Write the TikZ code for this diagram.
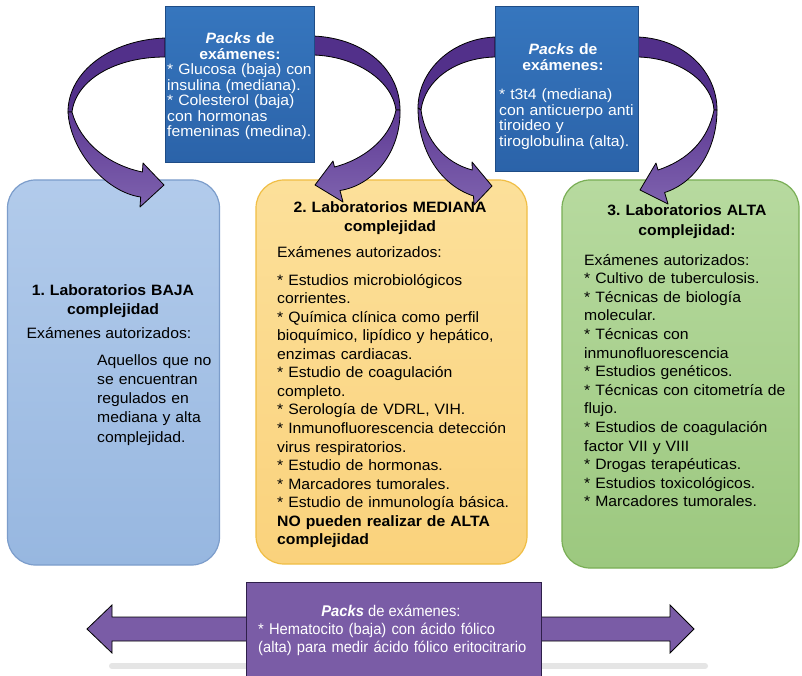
\documentclass[tikz,border=0pt]{standalone}
\usepackage{fontspec}
\setmainfont{Liberation Sans}[FakeStretch=1.05]
\newfontfamily\botfont{Liberation Sans}[FakeStretch=0.95]
\definecolor{labAtop}{HTML}{B2CBEB}
\definecolor{labAbot}{HTML}{97B7E0}
\definecolor{labAdraw}{HTML}{7C9DCB}
\definecolor{labBtop}{HTML}{FCE09A}
\definecolor{labBbot}{HTML}{FAD27C}
\definecolor{labBdraw}{HTML}{F0BE45}
\definecolor{labCtop}{HTML}{B7DA9F}
\definecolor{labCbot}{HTML}{9CC87F}
\definecolor{labCdraw}{HTML}{79AE55}
\definecolor{pktop}{HTML}{3676BE}
\definecolor{pkbot}{HTML}{2B63A9}
\definecolor{pkdraw}{HTML}{1E4C86}
\definecolor{purpbox}{HTML}{7A5CA6}
\definecolor{purpdraw}{HTML}{2E1F4A}
\definecolor{ardark}{HTML}{52308A}
\definecolor{arlighttop}{HTML}{5E3A94}
\definecolor{arlightbot}{HTML}{7E62AE}
\tikzset{
  labbox/.style={rectangle, rounded corners=28, line width=1.2},
  pkbox/.style={rectangle, draw=pkdraw, line width=1, top color=pktop, bottom color=pkbot},
  arrowdark/.style={draw=black, line width=0.8, fill=ardark, line join=round},
  arrowlight/.style={draw=black, line width=0.8, top color=arlighttop, bottom color=arlightbot, line join=round},
  labtxt/.style={inner sep=0, font=\fontsize{15}{18.5}\selectfont, text=black},
  pktxt/.style={inner sep=0, font=\fontsize{15}{15.5}\selectfont, text=white},
  bottxt/.style={inner sep=0, font=\botfont\fontsize{15.5}{18}\selectfont, text=white},
}
\frenchspacing
\begin{document}
\begin{tikzpicture}[x=1pt,y=-1pt]
\useasboundingbox (0,0) rectangle (802,676);
\fill[white] (0,0) rectangle (802,676);

% main laboratory boxes
\node[labbox, draw=labAdraw, top color=labAtop, bottom color=labAbot,
      minimum width=212, minimum height=385] (lab1) at (113.5,372.5) {};
\node[labbox, draw=labBdraw, top color=labBtop, bottom color=labBbot,
      minimum width=271, minimum height=384] (lab2) at (391.5,372) {};
\node[labbox, draw=labCdraw, top color=labCtop, bottom color=labCbot,
      minimum width=237, minimum height=388] (lab3) at (680.5,374) {};

% curved arrow A (pk1 -> lab1)
\draw[arrowdark] (165,38) .. controls (110,40) and (68,72) .. (68,112)
  -- (72,112) .. controls (76,80) and (115,57) .. (165,57) -- cycle;
\draw[arrowlight] (68,112) .. controls (70,150) and (105,192) .. (140.7,197)
  -- (140,207) -- (164,185) -- (143,163) -- (142.4,172)
  .. controls (108,165) and (80,142) .. (72,112) -- cycle;

% curved arrow B (pk1 -> lab2)
\draw[arrowdark] (313,36) .. controls (365,38) and (400,70) .. (400,110)
  -- (396,110) .. controls (392,80) and (355,56) .. (313,55) -- cycle;
\draw[arrowlight] (400,110) .. controls (401,150) and (375,185) .. (340,190.5)
  -- (343,202) -- (315,185) -- (333,161) -- (334.5,167)
  .. controls (362,160) and (390,140) .. (396,110) -- cycle;

% curved arrow C (pk2 -> lab2)
\draw[arrowdark] (495,37) .. controls (450,39) and (418,72) .. (418,108)
  -- (421,110) .. controls (425,80) and (455,58) .. (495,57) -- cycle;
\draw[arrowlight] (418,108) .. controls (418,150) and (440,185) .. (473.5,196)
  -- (474,205) -- (492,186) -- (472,162) -- (472.3,170)
  .. controls (445,163) and (425,140) .. (421,110) -- cycle;

% curved arrow D (pk2 -> lab3)
\draw[arrowdark] (638,37) .. controls (685,39) and (717,72) .. (717,110)
  -- (714,110) .. controls (712,82) and (680,58) .. (638,57) -- cycle;
\draw[arrowlight] (717,110) .. controls (717,150) and (695,183) .. (664.6,192.5)
  -- (668,204) -- (640,190) -- (656,163) -- (658,170)
  .. controls (688,160) and (708,140) .. (714,110) -- cycle;

% packs boxes
\node[pkbox, minimum width=149, minimum height=156] (pk1) at (239.5,85) {};
\node[pkbox, minimum width=143, minimum height=165] (pk2) at (566.5,89.5) {};

% bottom double arrow with shadow
\draw[gray!20, line width=6, line cap=round] (112,666) -- (705,666);
\draw[draw=black, line width=0.8, fill=purpbox, line join=miter]
  (87,629) -- (112,605) -- (112,617) -- (670,617) -- (670,605) -- (694,629)
  -- (670,653) -- (670,641) -- (112,641) -- (112,653) -- cycle;
\node[rectangle, draw=purpdraw, line width=1, fill=purpbox,
      minimum width=295, minimum height=110] (pkb) at (393.5,637) {};

% texts in packs boxes
\node[pktxt, anchor=base, text width=140, align=center] (pk1title) at (240,44)
  {\textbf{\textit{Packs} de}\\\textbf{exámenes:}};
\node[pktxt, anchor=base west, text width=146, align=left] (pk1body) at (167,75)
  {{*} Glucosa (baja) con\\insulina (mediana).\\{*} Colesterol (baja)\\con hormonas\\femeninas (medina).};
\node[pktxt, anchor=base, text width=136, align=center] (pk2title) at (563,55)
  {\textbf{\textit{Packs} de}\\\textbf{exámenes:}};
\node[pktxt, anchor=base west, text width=138, align=left] (pk2body) at (499,100)
  {{*} t3t4 (mediana)\\con anticuerpo anti\\tiroideo y\\tiroglobulina (alta).};

% texts lab 1
\node[labtxt, anchor=base, text width=200, align=center,
      font=\fontsize{15}{19}\selectfont] (lab1title) at (113,295)
  {\textbf{1. Laboratorios BAJA}\\\textbf{complejidad}};
\node[labtxt, anchor=base] (lab1sub) at (109,338) {Exámenes autorizados:};
\node[labtxt, anchor=base west, text width=125, align=left,
      font=\fontsize{15}{19.25}\selectfont] (lab1body) at (97,365)
  {Aquellos que no\\se encuentran\\regulados en\\mediana y alta\\complejidad.};

% texts lab 2
\node[labtxt, anchor=base, text width=260, align=center,
      font=\fontsize{15}{20}\selectfont] (lab2title) at (390,212)
  {\textbf{2. Laboratorios MEDIANA}\\\textbf{complejidad}};
\node[labtxt, anchor=base west] (lab2sub) at (277,257) {Exámenes autorizados:};
\node[labtxt, anchor=base west, text width=250, align=left,
      font=\fontsize{15}{18.57}\selectfont] (lab2body) at (277,285)
  {{*} Estudios microbiológicos\\corrientes.\\{*} Química clínica como perfil\\bioquímico, lipídico y hepático,\\enzimas cardiacas.\\{*} Estudio de coagulación\\completo.\\{*} Serología de VDRL, VIH.\\{*} Inmunofluorescencia detección\\virus respiratorios.\\{*} Estudio de hormonas.\\{*} Marcadores tumorales.\\{*} Estudio de inmunología básica.\\\textbf{NO pueden realizar de ALTA}\\\textbf{complejidad}};

% texts lab 3
\node[labtxt, anchor=base, text width=220, align=center,
      font=\fontsize{15}{19}\selectfont] (lab3title) at (687,216)
  {\textbf{3. Laboratorios ALTA}\\\textbf{complejidad:}};
\node[labtxt, anchor=base west, text width=215, align=left,
      font=\fontsize{15}{18.6}\selectfont] (lab3body) at (584,265)
  {Exámenes autorizados:\\{*} Cultivo de tuberculosis.\\{*} Técnicas de biología\\molecular.\\{*} Técnicas con\\inmunofluorescencia\\{*} Estudios genéticos.\\{*} Técnicas con citometría de\\flujo.\\{*} Estudios de coagulación\\factor VII y VIII\\{*} Drogas terapéuticas.\\{*} Estudios toxicológicos.\\{*} Marcadores tumorales.};

% bottom texts
\node[bottxt, anchor=base] (pkbtitle) at (391,616)
  {\textbf{\textit{Packs}} de exámenes:};
\node[bottxt, anchor=base west, text width=280, align=left] (pkbbody) at (258,634)
  {{*} Hematocito (baja) con ácido fólico\\(alta) para medir ácido fólico eritocitrario};
\end{tikzpicture}
\end{document}
